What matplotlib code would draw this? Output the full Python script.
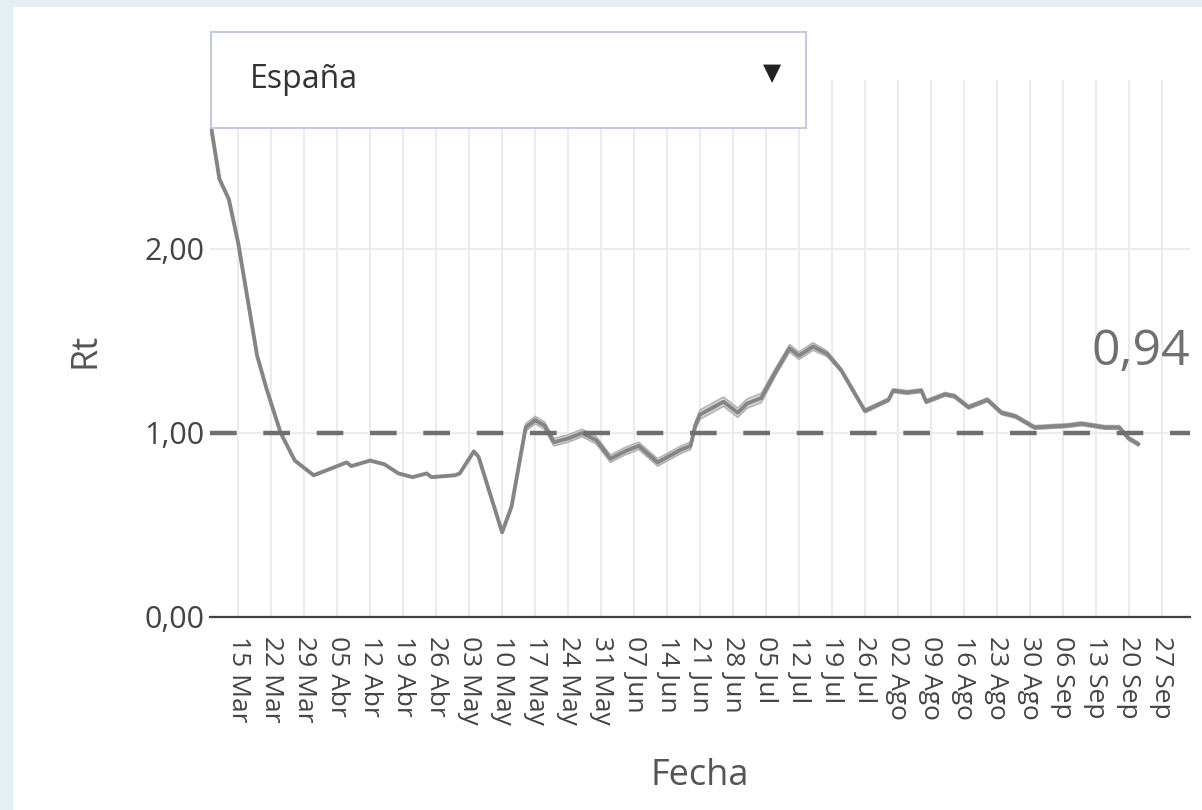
import numpy as np
import pandas as pd
import matplotlib
matplotlib.use("Agg")
import matplotlib.pyplot as plt
from matplotlib.patches import Rectangle

plt.rcParams['font.family'] = ['Open Sans', 'DejaVu Sans']

# --- data (days counted from 15 Mar 2020) ---
day_offset = [-6, -4, -2, 0, 4, 6, 9, 12, 16, 20, 23, 24, 28, 31, 34, 37, 40, 41,
              46, 47, 50, 51, 56, 58, 61, 63, 65, 67, 70, 73, 76, 79, 82, 85, 89,
              94, 96, 97, 98, 103, 106, 108, 111, 114, 117, 119, 122, 125, 128,
              133, 138, 139, 142, 145, 146, 150, 152, 155, 159, 162, 165, 169,
              176, 179, 184, 187, 189, 191]
rt = [2.70, 2.38, 2.27, 2.03, 1.42, 1.24, 1.00, 0.85, 0.77, 0.81, 0.84, 0.82,
      0.85, 0.83, 0.78, 0.76, 0.78, 0.76, 0.77, 0.78, 0.90, 0.87, 0.46, 0.60,
      1.03, 1.07, 1.04, 0.95, 0.97, 1.00, 0.96, 0.86, 0.90, 0.93, 0.84, 0.91,
      0.93, 1.04, 1.10, 1.17, 1.11, 1.16, 1.19, 1.33, 1.46, 1.42, 1.47, 1.43,
      1.34, 1.12, 1.18, 1.23, 1.22, 1.23, 1.17, 1.21, 1.20, 1.14, 1.18, 1.11,
      1.09, 1.03, 1.04, 1.05, 1.03, 1.03, 0.97, 0.94]
# half width of the faint uncertainty band
ci = [0.0, 0.0, 0.0, 0.0, 0.0, 0.0, 0.0, 0.0, 0.0, 0.0, 0.0, 0.0,
      0.0, 0.0, 0.0, 0.0, 0.0, 0.0, 0.0, 0.0, 0.0, 0.0, 0.0, 0.01,
      0.02, 0.02, 0.02, 0.02, 0.02, 0.02, 0.02, 0.02, 0.02, 0.02, 0.02, 0.02,
      0.02, 0.02, 0.025, 0.025, 0.025, 0.025, 0.025, 0.02, 0.02, 0.02, 0.02, 0.015,
      0.01, 0.01, 0.01, 0.01, 0.01, 0.01, 0.01, 0.01, 0.01, 0.01, 0.01, 0.01,
      0.01, 0.01, 0.01, 0.01, 0.01, 0.01, 0.01, 0.01]
tick_labels = ["15 Mar", "22 Mar", "29 Mar", "05 Abr", "12 Abr", "19 Abr", "26 Abr",
               "03 May", "10 May", "17 May", "24 May", "31 May", "07 Jun", "14 Jun",
               "21 Jun", "28 Jun", "05 Jul", "12 Jul", "19 Jul", "26 Jul", "02 Ago",
               "09 Ago", "16 Ago", "23 Ago", "30 Ago", "06 Sep", "13 Sep", "20 Sep",
               "27 Sep"]
y_ticks = [0.0, 1.0, 2.0]
y_tick_labels = ["0,00", "1,00", "2,00"]
last_label = "0,94"
region = "España"

start = pd.Timestamp("2020-03-15")
dates = start + pd.to_timedelta(day_offset, unit="D")
tick_dates = pd.date_range(start, periods=len(tick_labels), freq="7D")
rt = np.array(rt)
ci = np.array(ci)

W, H = 1202, 810
fig = plt.figure(figsize=(W / 100, H / 100), dpi=100, facecolor="#e3eef5")
# white panel of the page, light blue strip left/top
fig.patches.append(Rectangle((13 / W, 0), 1 - 13 / W, 1 - 7 / H,
                             transform=fig.transFigure, facecolor="white",
                             edgecolor="none", zorder=-1))

ax = fig.add_axes([210 / W, 1 - 617 / H, (1190 - 210) / W, (617 - 80) / H])
ax.set_facecolor("none")

ax.fill_between(dates, rt - ci, rt + ci, color="#b5b5b5", alpha=0.5, lw=0, zorder=2)
ax.plot(dates, rt - ci, color="#b3b3b3", lw=1.2, zorder=2)
ax.plot(dates, rt + ci, color="#b3b3b3", lw=1.2, zorder=2)
ax.plot(dates, rt, color="#858585", lw=2.8, zorder=3, solid_joinstyle="round")

ax.axhline(1.0, color="#6e6e6e", lw=3.2, dashes=(6.0, 6.0), zorder=4)

ax.set_xlim(start + pd.Timedelta(days=-6), start + pd.Timedelta(days=202))
ax.set_ylim(0, 2.918)

ax.set_xticks(tick_dates)
ax.set_xticklabels(tick_labels, rotation=-90, fontsize=19, color="#444444",
                   va="top", ha="center")
ax.set_yticks(y_ticks)
ax.set_yticklabels(y_tick_labels, fontsize=22, color="#444444")
ax.tick_params(axis="both", length=0)
ax.tick_params(axis="x", pad=14)
ax.tick_params(axis="y", pad=4)

ax.grid(True, color="#ececec", lw=1.5, zorder=0)
ax.set_axisbelow(True)
for side in ["top", "right", "left"]:
    ax.spines[side].set_visible(False)
ax.spines["bottom"].set_color("#444444")
ax.spines["bottom"].set_linewidth(1.6)

fig.text(700 / W, 1 - 776 / H, "Fecha", fontsize=26, color="#555555",
         ha="center", va="center")
fig.text(85 / W, 1 - 350 / H, "Rt", rotation=90, fontsize=26, color="#555555",
         ha="center", va="center")

ax.text(1.0, 1.44, last_label, transform=ax.get_yaxis_transform(), ha="right",
        va="center", fontsize=36, color="#707070", clip_on=False)

# dropdown box on top of the plot
fig.patches.append(Rectangle((211 / W, 1 - 128 / H), 595 / W, 96 / H,
                             transform=fig.transFigure, facecolor="white",
                             edgecolor="#c3cadf", lw=1.5, zorder=5))
fig.text(250 / W, 1 - 80 / H, region, fontsize=23, color="#333333",
         ha="left", va="center", zorder=6)
fig.text(772 / W, 1 - 73 / H, "▼", family="DejaVu Sans", fontsize=17,
         color="#222222", ha="center", va="center", zorder=6)

fig.savefig("out.png", dpi=100, facecolor=fig.get_facecolor())
